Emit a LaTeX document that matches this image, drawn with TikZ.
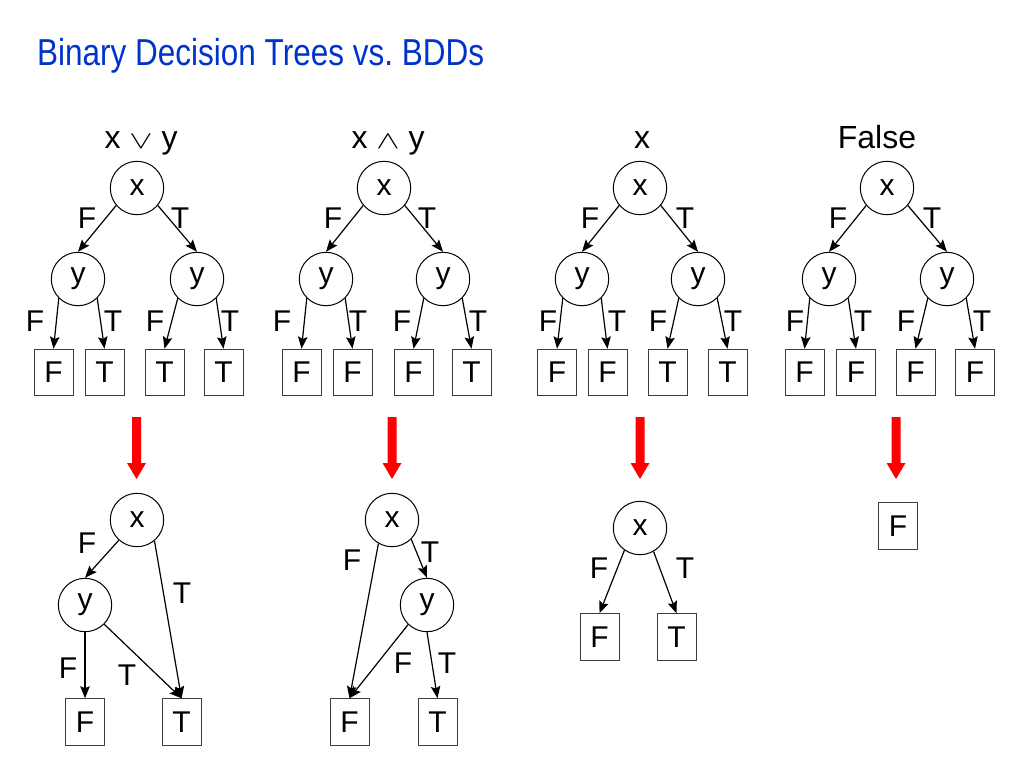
\documentclass[tikz,border=0pt]{standalone}
\usepackage{fontspec}
\setmainfont{Liberation Sans}
\usetikzlibrary{arrows.meta}
\definecolor{titleblue}{RGB}{0,51,204}
\definecolor{boxgray}{RGB}{60,60,60}
\newcommand\wideop[1]{\scalebox{1.4}[1.0]{$#1$}}
\begin{document}
\begin{tikzpicture}[x=1pt,y=-1pt,
  txt/.style={font=\fontsize{30}{36}\selectfont, inner sep=0pt},
  vnode/.style={txt, circle, draw=black, line width=1pt, minimum size=53.4pt},
  leaf/.style={txt, rectangle, draw=boxgray, line width=1pt, minimum width=39pt, minimum height=46.5pt},
  lbl/.style={txt},
  head/.style={txt, font=\fontsize{32}{38}\selectfont, anchor=base},
  conn/.style={draw=black, line width=1.2pt, -{Stealth[length=12pt,width=9.5pt,inset=2pt]}},
  redarrow/.pic={\fill[red] (-4.5,0) -- (4.5,0) -- (4.5,46) -- (9.5,46) -- (0,62) -- (-9.5,46) -- (-4.5,46) -- cycle;}
]
\useasboundingbox (0,0) rectangle (1024,768);
\node[txt, anchor=base west, font=\fontsize{37.5}{44}\selectfont, text=titleblue] (title) at (37,65) {\scalebox{0.84}[1]{Binary Decision Trees vs.\ BDDs}};

% ---------- Tree 1 ----------
\node[head] (h1) at (141,148) {x \wideop{\vee} y};
\node[vnode] (ax1) at (137,188) {x};
\node[vnode] (ayl1) at (78,279) {y};
\node[vnode] (ayr1) at (197,279) {y};
\node[leaf] (al11) at (53.5,372.5) {F};
\node[leaf] (al12) at (104.5,372.5) {T};
\node[leaf] (al13) at (164.5,372.5) {T};
\node[leaf] (al14) at (223.5,372.5) {T};
\draw[conn] (ax1.220) -- (ayl1.north);
\draw[conn] (ax1.320) -- (ayr1.north);
\draw[conn] (ayl1.225) -- (al11.north);
\draw[conn] (ayl1.315) -- (al12.north);
\draw[conn] (ayr1.225) -- (al13.north);
\draw[conn] (ayr1.315) -- (al14.north);
\node[lbl] (f1a) at (87,218) {F};
\node[lbl] (t1a) at (180,218) {T};
\node[lbl] (f1b) at (35,321) {F};
\node[lbl] (t1b) at (113,321) {T};
\node[lbl] (f1c) at (155,321) {F};
\node[lbl] (t1c) at (230,321) {T};

% ---------- Tree 2 ----------
\node[head] (h2) at (388,148) {x \wideop{\wedge} y};
\node[vnode] (ax2) at (384,188) {x};
\node[vnode] (ayl2) at (326,279) {y};
\node[vnode] (ayr2) at (443,279) {y};
\node[leaf] (al21) at (301.5,372.5) {F};
\node[leaf] (al22) at (352.5,372.5) {F};
\node[leaf] (al23) at (413.5,372.5) {F};
\node[leaf] (al24) at (471.5,372.5) {T};
\draw[conn] (ax2.220) -- (ayl2.north);
\draw[conn] (ax2.320) -- (ayr2.north);
\draw[conn] (ayl2.225) -- (al21.north);
\draw[conn] (ayl2.315) -- (al22.north);
\draw[conn] (ayr2.225) -- (al23.north);
\draw[conn] (ayr2.315) -- (al24.north);
\node[lbl] (f2a) at (333,218) {F};
\node[lbl] (t2a) at (427,218) {T};
\node[lbl] (f2b) at (282,321) {F};
\node[lbl] (t2b) at (358,321) {T};
\node[lbl] (f2c) at (402,321) {F};
\node[lbl] (t2c) at (478,321) {T};

% ---------- Tree 3 ----------
\node[head] (h3) at (642,148) {x};
\node[vnode] (ax3) at (640,188) {x};
\node[vnode] (ayl3) at (582,279) {y};
\node[vnode] (ayr3) at (698,279) {y};
\node[leaf] (al31) at (557,372.5) {F};
\node[leaf] (al32) at (607.5,372.5) {F};
\node[leaf] (al33) at (667.5,372.5) {T};
\node[leaf] (al34) at (727.5,372.5) {T};
\draw[conn] (ax3.220) -- (ayl3.north);
\draw[conn] (ax3.320) -- (ayr3.north);
\draw[conn] (ayl3.225) -- (al31.north);
\draw[conn] (ayl3.315) -- (al32.north);
\draw[conn] (ayr3.225) -- (al33.north);
\draw[conn] (ayr3.315) -- (al34.north);
\node[lbl] (f3a) at (590,218) {F};
\node[lbl] (t3a) at (685,218) {T};
\node[lbl] (f3b) at (548,321) {F};
\node[lbl] (t3b) at (617,321) {T};
\node[lbl] (f3c) at (658,321) {F};
\node[lbl] (t3c) at (733,321) {T};

% ---------- Tree 4 ----------
\node[head] (h4) at (877,148) {False};
\node[vnode] (ax4) at (887,188) {x};
\node[vnode] (ayl4) at (829,279) {y};
\node[vnode] (ayr4) at (947,279) {y};
\node[leaf] (al41) at (804.5,372.5) {F};
\node[leaf] (al42) at (856,372.5) {F};
\node[leaf] (al43) at (915.5,372.5) {F};
\node[leaf] (al44) at (975,372.5) {F};
\draw[conn] (ax4.220) -- (ayl4.north);
\draw[conn] (ax4.320) -- (ayr4.north);
\draw[conn] (ayl4.225) -- (al41.north);
\draw[conn] (ayl4.315) -- (al42.north);
\draw[conn] (ayr4.225) -- (al43.north);
\draw[conn] (ayr4.315) -- (al44.north);
\node[lbl] (f4a) at (838,218) {F};
\node[lbl] (t4a) at (932,218) {T};
\node[lbl] (f4b) at (795,321) {F};
\node[lbl] (t4b) at (863,321) {T};
\node[lbl] (f4c) at (906,321) {F};
\node[lbl] (t4c) at (982,321) {T};

% ---------- red arrows ----------
\coordinate (r1) at (136.5,417);
\coordinate (r2) at (392,417);
\coordinate (r3) at (640,417);
\coordinate (r4) at (896,417);
\pic at (r1) {redarrow};
\pic at (r2) {redarrow};
\pic at (r3) {redarrow};
\pic at (r4) {redarrow};

% ---------- BDD 1 ----------
\node[vnode] (bx1) at (137,520) {x};
\node[vnode] (by1) at (85,605) {y};
\node[leaf] (bf1) at (85,722) {F};
\node[leaf] (bt1) at (181.5,722) {T};
\draw[conn] (bx1.228) -- (by1.north);
\draw[conn] (bx1.310) -- (bt1.north);
\draw[conn] (by1.south) -- (bf1.north);
\draw[conn] (by1.315) -- (bt1.north);
\node[lbl] (bl1a) at (87,543) {F};
\node[lbl] (bl1b) at (182,593) {T};
\node[lbl] (bl1c) at (68,668) {F};
\node[lbl] (bl1d) at (127,675) {T};

% ---------- BDD 2 ----------
\node[vnode] (bx2) at (392,520) {x};
\node[vnode] (by2) at (427,605) {y};
\node[leaf] (bf2) at (349.5,722) {F};
\node[leaf] (bt2) at (437.5,722) {T};
\draw[conn] (bx2.240) -- (bf2.north);
\draw[conn] (bx2.315) -- (by2.north);
\draw[conn] (by2.226) -- (bf2.north);
\draw[conn] (by2.south) -- (bt2.north);
\node[lbl] (bl2a) at (352,560) {F};
\node[lbl] (bl2b) at (430,552) {T};
\node[lbl] (bl2c) at (403,663) {F};
\node[lbl] (bl2d) at (447,663) {T};

% ---------- BDD 3 ----------
\node[vnode] (bx3) at (640,528) {x};
\node[leaf] (bf3) at (599.5,637) {F};
\node[leaf] (bt3) at (676.5,637) {T};
\draw[conn] (bx3.235) -- (bf3.north);
\draw[conn] (bx3.300) -- (bt3.north);
\node[lbl] (bl3a) at (599,568) {F};
\node[lbl] (bl3b) at (685,568) {T};

% ---------- BDD 4 ----------
\node[leaf] (bf4) at (898,526) {F};
\end{tikzpicture}
\end{document}
